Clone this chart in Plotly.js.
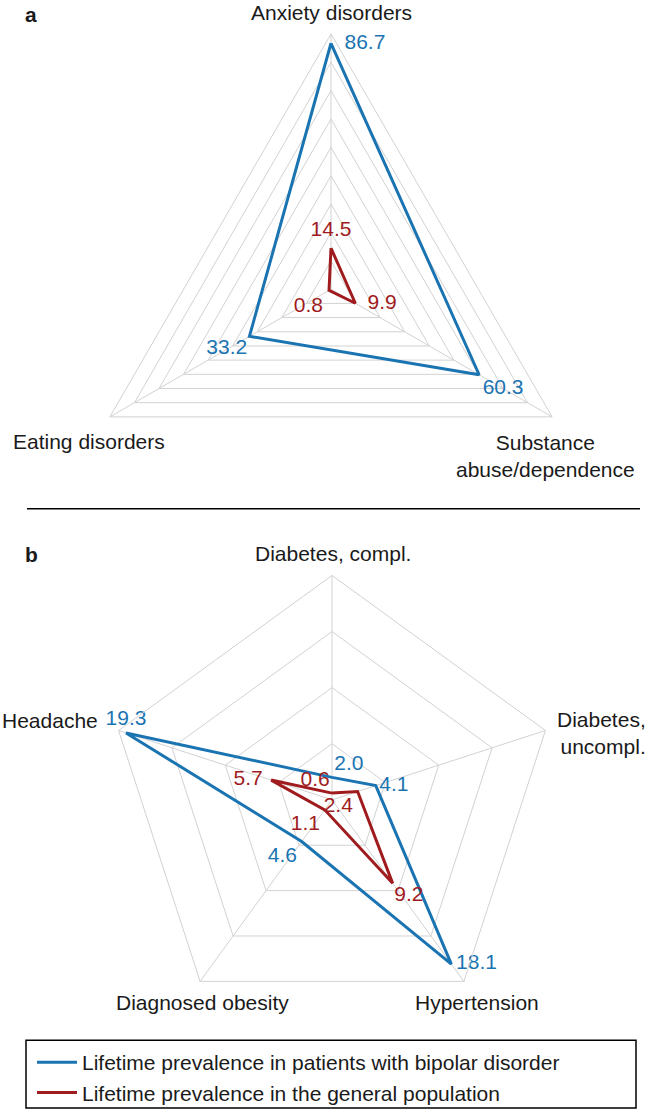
<!DOCTYPE html>
<html>
<head>
<meta charset="utf-8">
<script src="https://cdn.plot.ly/plotly-3.0.1.min.js"></script>
<style>html,body{margin:0;padding:0;background:#fff;}#chart{width:649px;height:1113px;}</style>
</head>
<body>
<div id="chart"></div>
<script>
// Panel a: psychiatric comorbidities (clockwise from top)
var catsA = ['Anxiety disorders', 'Substance abuse/dependence', 'Eating disorders'];
var bipolarA = [86.7, 60.3, 33.2];
var generalA = [14.5, 9.9, 0.8];

// Panel b: somatic comorbidities (clockwise from top)
var catsB = ['Diabetes, compl.', 'Diabetes, uncompl.', 'Hypertension', 'Diagnosed obesity', 'Headache'];
var bipolarB = [2.0, 4.1, 18.1, 4.6, 19.3];
var generalB = [0.6, 2.4, 9.2, 1.1, 5.7];

var seriesNames = ['Lifetime prevalence in patients with bipolar disorder',
                   'Lifetime prevalence in the general population'];

var BLUE = '#1b74b2', RED = '#a01b1e', GRID = '#d2d2d2', TXT = '#1a1a1a';
var FONT = 'Liberation Sans, Arial, Helvetica, sans-serif';
var FS = 21;
var W = 649, H = 1113;

function closeArr(a) { return a.concat([a[0]]); }
function labels(a) { return a.map(function (v) { return v.toFixed(1); }).concat(['']); }

// pos: label position per point; gap: spacing between point and label (invisible marker size)
function trace(vals, cats, color, name, sub, pos, gap, showleg) {
  return {
    type: 'scatterpolar', subplot: sub,
    r: closeArr(vals), theta: closeArr(cats),
    mode: 'lines+markers+text', name: name, showlegend: showleg,
    line: {color: color, width: 3},
    marker: {size: gap.concat([1]), color: 'rgba(0,0,0,0)', opacity: 0, line: {width: 0}},
    text: labels(vals), textposition: pos.concat(['middle center']),
    textfont: {color: color, size: FS, family: FONT},
    cliponaxis: false, hoverinfo: 'skip'
  };
}

var data = [
  trace(bipolarA, catsA, BLUE, seriesNames[0], 'polar',
        ['middle right', 'bottom right', 'bottom left'], [20, 4, 2], true),
  trace(generalA, catsA, RED, seriesNames[1], 'polar',
        ['top center', 'middle right', 'bottom left'], [10, 18, 8], true),
  trace(bipolarB, catsB, BLUE, seriesNames[0], 'polar2',
        ['top right', 'middle right', 'middle right', 'bottom left', 'top center'], [2, 4, 6, 6, 2], false),
  trace(generalB, catsB, RED, seriesNames[1], 'polar2',
        ['top left', 'bottom left', 'bottom right', 'bottom left', 'middle left'], [2, 6, 1, 6, 12], false)
];

function px(x) { return x / W; }
function py(y) { return 1 - y / H; }

function polarCfg(cx, cy, R, maxR, dt, cats) {
  return {
    domain: {x: [px(cx - R), px(cx + R)], y: [py(cy + R), py(cy - R)]},
    gridshape: 'linear',
    bgcolor: 'rgba(0,0,0,0)',
    radialaxis: {range: [0, maxR], dtick: dt, showticklabels: false, ticks: '', showline: false,
                 gridcolor: GRID, gridwidth: 1},
    angularaxis: {type: 'category', categoryarray: cats, rotation: 90, direction: 'clockwise',
                  showticklabels: false, ticks: '', showline: true, linecolor: GRID, linewidth: 1,
                  gridcolor: GRID, gridwidth: 1}
  };
}

function ann(text, x, y, opts) {
  var a = {text: text, x: px(x), y: py(y), xref: 'paper', yref: 'paper', showarrow: false,
           xanchor: 'center', yanchor: 'middle', font: {size: FS, color: TXT, family: FONT}};
  for (var k in opts) a[k] = opts[k];
  return a;
}

var annotations = [
  ann('<b>a</b>', 31, 15, {}),
  ann('<b>b</b>', 31, 556, {}),
  ann(catsA[0], 331, 13, {}),
  ann('Substance<br>abuse/dependence', 545, 457, {}),
  ann(catsA[2], 89, 443, {}),
  ann(catsB[0], 333, 555, {}),
  ann('Diabetes,<br>uncompl.', 648, 735, {xanchor: 'right', align: 'right'}),
  ann(catsB[2], 477, 1005, {}),
  ann(catsB[3], 202, 1005, {}),
  ann(catsB[4], 0, 722, {xanchor: 'left'})
];

var layout = {
  width: W, height: H,
  margin: {l: 0, r: 0, t: 0, b: 0},
  paper_bgcolor: '#fff', plot_bgcolor: '#fff',
  font: {family: FONT, size: FS, color: TXT},
  polar: polarCfg(331, 290, 256, 90, 10, catsA),
  polar2: polarCfg(332, 802, 225, 20, 5, catsB),
  showlegend: true,
  legend: {x: px(32), y: py(1045), xanchor: 'left', yanchor: 'top', bgcolor: 'rgba(0,0,0,0)',
           borderwidth: 0, itemwidth: 40, font: {size: FS, color: TXT, family: FONT}, tracegroupgap: 0},
  annotations: annotations,
  shapes: [
    {type: 'line', xref: 'paper', yref: 'paper', x0: px(27), x1: px(640), y0: py(510), y1: py(510),
     line: {color: '#000', width: 1.5}},
    {type: 'rect', xref: 'paper', yref: 'paper', x0: px(26), x1: px(636), y0: py(1043), y1: py(1111),
     line: {color: '#000', width: 1.5}}
  ]
};

Plotly.newPlot('chart', data, layout, {staticPlot: true, displayModeBar: false});
</script>
</body>
</html>
